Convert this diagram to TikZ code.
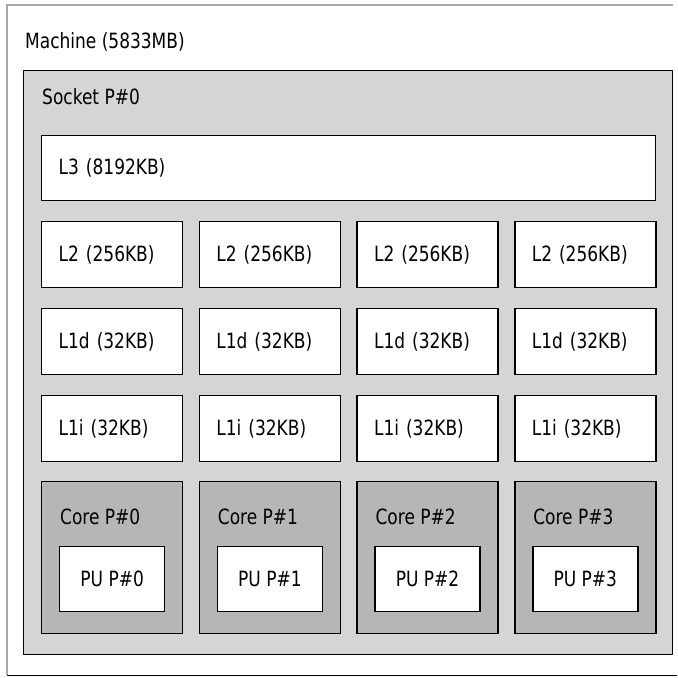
\documentclass[tikz,border=0pt]{standalone}
\usepackage{fontspec}
\setmainfont{DejaVu Sans}[FakeStretch=0.81]
\usetikzlibrary{positioning}

\definecolor{socketgray}{HTML}{D4D5D4}
\definecolor{coregray}{HTML}{B5B7B7}
\definecolor{machgray}{HTML}{A8A8A8}

\tikzset{
  lbl/.style={anchor=west, inner sep=0pt, font=\fontsize{21pt}{25pt}\selectfont},
  objbox/.style={draw=black, line width=1.4pt, anchor=north west, inner sep=0pt},
  cachebox/.style={objbox, fill=white, minimum width=141pt, minimum height=66pt,
    text width=107pt, align=left, font=\fontsize{21pt}{25pt}\selectfont},
  corebox/.style={objbox, fill=coregray, minimum width=141pt, minimum height=152pt},
  pubox/.style={objbox, fill=white, minimum width=105pt, minimum height=65pt,
    align=center, font=\fontsize{21pt}{25pt}\selectfont}
}

\begin{document}
\begin{tikzpicture}[x=1pt,y=-1pt]
\useasboundingbox (0,0) rectangle (678,678);

% machine
\node[anchor=north west, inner sep=0pt, minimum width=666pt, minimum height=670pt] (machine) at (7,5) {};
\draw[machgray, line width=1.4pt] (machine.south west) -- (machine.north west) -- (machine.north east);
\draw[black, line width=1.4pt] (machine.south west) -- ([xshift=4pt]machine.south east);
\node[lbl] (machinelbl) at (25,42) {Machine (5833MB)};

% socket
\node[objbox, fill=socketgray, minimum width=649pt, minimum height=584pt] (socket) at (23,70) {};
\node[lbl] (socketlbl) at (42,97) {Socket P\#0};

\node[cachebox, minimum width=614pt, minimum height=65pt, text width=580pt] (l3) at (41,135) {L3 (8192KB)};

% one column per core
\foreach \i in {0,...,3}{
  \pgfmathsetmacro{\cx}{41+157.7*\i}
  \node[cachebox] (l2-\i) at (\cx,221) {L2 (256KB)};
  \node[cachebox] (l1d-\i) at (\cx,308) {L1d (32KB)};
  \node[cachebox] (l1i-\i) at (\cx,395) {L1i (32KB)};
  \node[corebox] (core\i) at (\cx,481) {};
  \node[lbl] (corelbl\i) at ([xshift=19pt,yshift=-36pt]core\i.north west) {Core P\#\i};
  \node[pubox] (pu\i) at ([xshift=18pt,yshift=-65pt]core\i.north west) {PU P\#\i};
}
\end{tikzpicture}
\end{document}
